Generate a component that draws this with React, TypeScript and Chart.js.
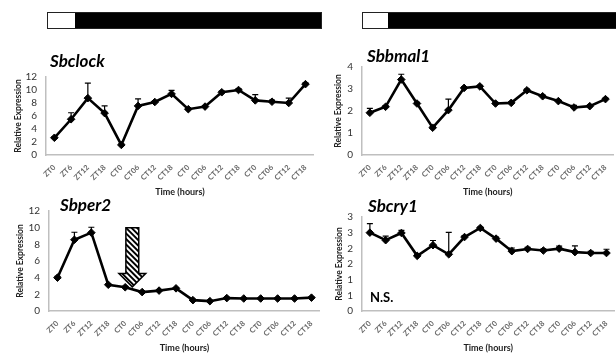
import React, { useEffect, useRef } from 'react';
import { Chart, registerables } from 'chart.js';

Chart.register(...registerables);

// Sampling times (light/dark, then constant darkness)
const timeLabels = [
  'ZT0', 'ZT6', 'ZT12', 'ZT18',
  'CT0', 'CT06', 'CT12', 'CT18',
  'CT0', 'CT06', 'CT12', 'CT18',
  'CT0', 'CT06', 'CT12', 'CT18',
];

// Sbclock relative expression and upper error
const clockMean = [2.65, 5.5, 8.75, 6.45, 1.55, 7.55, 8.15, 9.4, 7.05, 7.45, 9.65, 10.0, 8.4, 8.2, 8.0, 10.9];
const clockErr = [0.15, 1.0, 2.3, 1.1, 0.15, 1.1, 0.2, 0.55, 0.15, 0.15, 0.2, 0.2, 0.9, 0.25, 0.75, 0.2];

// Sbbmal1 relative expression and upper error
const bmalMean = [1.92, 2.19, 3.43, 2.34, 1.24, 2.04, 3.05, 3.12, 2.34, 2.37, 2.94, 2.67, 2.45, 2.16, 2.22, 2.54];
const bmalErr = [0.2, 0.05, 0.24, 0.05, 0.05, 0.5, 0.05, 0.05, 0.05, 0.05, 0.05, 0.05, 0.05, 0.1, 0.05, 0.05];

// Sbper2 relative expression and upper error
const perMean = [4.0, 8.55, 9.4, 3.15, 2.85, 2.27, 2.45, 2.72, 1.3, 1.18, 1.55, 1.5, 1.5, 1.5, 1.5, 1.6];
const perErr = [0.15, 0.9, 0.65, 0.1, 0.1, 0.1, 0.1, 0.1, 0.1, 0.1, 0.1, 0.1, 0.1, 0.1, 0.1, 0.1];

// Sbcry1 relative expression and upper error
const cryMean = [2.5, 2.26, 2.49, 1.76, 2.1, 1.81, 2.36, 2.65, 2.31, 1.91, 1.98, 1.93, 1.99, 1.88, 1.85, 1.85];
const cryErr = [0.29, 0.13, 0.08, 0.03, 0.15, 0.7, 0.05, 0.03, 0.05, 0.1, 0.05, 0.05, 0.08, 0.2, 0.05, 0.12];

// Light treatment marker on the Sbper2 panel, in axis units
const per2Arrow = { x: 4.42, top: 10, headBase: 4.5, tip: 2.9, halfShaft: 0.38, halfHead: 0.79 };

const FONT = 'Lato, "Open Sans", sans-serif';
const AXIS_GREY = '#bfbfbf';

type PanelSpec = {
  title: string;
  mean: number[];
  err: number[];
  yMax: number;
  yStep: number;
  roundTicks?: boolean;
  note?: string;
  arrow?: typeof per2Arrow;
  box: { left: number; top: number; width: number; height: number };
  padTop: number;
  yWidth: number;
  xHeight: number;
  yTitleOffset: number;
  xTitleOffset: number;
  titleDx: number;
  titleDy: number;
};

const panels: PanelSpec[] = [
  {
    title: 'Sbclock', mean: clockMean, err: clockErr, yMax: 12, yStep: 2,
    box: { left: 0, top: 40, width: 320, height: 160 }, padTop: 37, yWidth: 46, xHeight: 45,
    yTitleOffset: 18, xTitleOffset: 8, titleDx: 4, titleDy: -15,
  },
  {
    title: 'Sbbmal1', mean: bmalMean, err: bmalErr, yMax: 4, yStep: 1,
    box: { left: 316, top: 40, width: 304, height: 160 }, padTop: 27, yWidth: 46, xHeight: 45,
    yTitleOffset: 22, xTitleOffset: 8, titleDx: 5, titleDy: -10,
  },
  {
    title: 'Sbper2', mean: perMean, err: perErr, yMax: 12, yStep: 2, arrow: per2Arrow,
    box: { left: 0, top: 196, width: 326, height: 158 }, padTop: 13, yWidth: 49, xHeight: 43,
    yTitleOffset: 20, xTitleOffset: 6, titleDx: 11, titleDy: -5,
  },
  {
    title: 'Sbcry1', mean: cryMean, err: cryErr, yMax: 3, yStep: 0.5, roundTicks: true, note: 'N.S.',
    box: { left: 316, top: 196, width: 305, height: 158 }, padTop: 21, yWidth: 46, xHeight: 43,
    yTitleOffset: 23, xTitleOffset: 6, titleDx: 6, titleDy: -10,
  },
];

// Upward error bars with caps, drawn under the markers
const errorBars = {
  id: 'errorBars',
  beforeDatasetsDraw(chart: any) {
    const ds = chart.data.datasets[0];
    const errs: number[] = ds.errUp || [];
    const meta = chart.getDatasetMeta(0);
    const y = chart.scales.y;
    const ctx = chart.ctx;
    ctx.save();
    ctx.strokeStyle = '#000';
    ctx.lineWidth = 1.2;
    meta.data.forEach((pt: any, i: number) => {
      const e = errs[i];
      if (!e) return;
      const top = y.getPixelForValue(ds.data[i] + e);
      ctx.beginPath();
      ctx.moveTo(pt.x, pt.y);
      ctx.lineTo(pt.x, top);
      ctx.moveTo(pt.x - 3, top);
      ctx.lineTo(pt.x + 3, top);
      ctx.stroke();
    });
    ctx.restore();
  },
};

// Gene name, optional note and optional hatched arrow
const panelText = {
  id: 'panelText',
  afterDatasetsDraw(chart: any, _args: any, opts: any) {
    const ctx = chart.ctx;
    const area = chart.chartArea;
    ctx.save();
    ctx.fillStyle = '#000';
    ctx.textBaseline = 'middle';
    ctx.textAlign = 'left';
    ctx.font = `italic bold 17px ${FONT}`;
    ctx.fillText(opts.title, area.left + opts.titleDx, area.top + opts.titleDy);
    if (opts.note) {
      ctx.font = `bold 13px ${FONT}`;
      ctx.fillText(opts.note, area.left + 8, area.bottom - 13);
    }
    const a = opts.arrow;
    if (a) {
      const xs = chart.scales.x;
      const ys = chart.scales.y;
      const cx = xs.getPixelForValue(a.x);
      const band = xs.getPixelForValue(a.x + 1) - cx;
      const sw = a.halfShaft * band;
      const hw = a.halfHead * band;
      const yTop = ys.getPixelForValue(a.top);
      const yBase = ys.getPixelForValue(a.headBase);
      const yTip = ys.getPixelForValue(a.tip);
      const path = new Path2D();
      path.moveTo(cx - sw, yTop);
      path.lineTo(cx + sw, yTop);
      path.lineTo(cx + sw, yBase);
      path.lineTo(cx + hw, yBase);
      path.lineTo(cx, yTip);
      path.lineTo(cx - hw, yBase);
      path.lineTo(cx - sw, yBase);
      path.closePath();
      ctx.fillStyle = '#fff';
      ctx.fill(path);
      ctx.save();
      ctx.clip(path);
      ctx.strokeStyle = '#000';
      ctx.lineWidth = 2;
      const h = yTip - yTop;
      for (let s = -h; s < 2 * hw + h; s += 5.5) {
        ctx.beginPath();
        ctx.moveTo(cx - hw + s, yTop);
        ctx.lineTo(cx - hw + s + h, yTop + h);
        ctx.stroke();
      }
      ctx.restore();
      ctx.strokeStyle = '#000';
      ctx.lineWidth = 1.5;
      ctx.stroke(path);
    }
    ctx.restore();
  },
};

function Panel({ spec }: { spec: PanelSpec }) {
  const ref = useRef<HTMLCanvasElement | null>(null);

  useEffect(() => {
    if (!ref.current) return;
    const chart = new Chart(ref.current, {
      type: 'line',
      data: {
        labels: timeLabels,
        datasets: [
          {
            data: spec.mean,
            errUp: spec.err,
            borderColor: '#000',
            borderWidth: 2.6,
            pointStyle: 'rectRot',
            pointRadius: 3.8,
            pointBorderWidth: 1,
            pointBackgroundColor: '#000',
            pointBorderColor: '#000',
            tension: 0,
            fill: false,
          } as any,
        ],
      },
      options: {
        animation: false,
        responsive: false,
        events: [],
        layout: { padding: { top: spec.padTop, left: 0, right: 0, bottom: 0 } },
        plugins: {
          legend: { display: false },
          tooltip: { enabled: false },
          title: { display: false },
          panelText: {
            title: spec.title,
            titleDx: spec.titleDx,
            titleDy: spec.titleDy,
            note: spec.note,
            arrow: spec.arrow,
          },
        } as any,
        scales: {
          x: {
            type: 'category',
            offset: true,
            grid: { display: false, drawTicks: false },
            border: { display: true, color: AXIS_GREY, width: 1.5 },
            ticks: {
              autoSkip: false,
              maxRotation: 45,
              minRotation: 45,
              padding: 8,
              color: '#666',
              font: { family: FONT, size: 7.5, weight: 'bold' },
            },
            title: {
              display: true,
              text: 'Time (hours)',
              color: '#222',
              font: { family: FONT, size: 9, weight: 'bold' },
              padding: { top: 0, bottom: spec.xTitleOffset - 5.4 },
            },
            afterFit(scale: any) {
              scale.height = spec.xHeight;
            },
          },
          y: {
            min: 0,
            max: spec.yMax,
            grid: { display: false, drawTicks: false },
            border: { display: true, color: AXIS_GREY, width: 1.5 },
            ticks: {
              autoSkip: false,
              stepSize: spec.yStep,
              padding: 9,
              color: '#333',
              font: { family: FONT, size: 10 },
              callback: (v: any) => (spec.roundTicks ? String(Math.round(Number(v))) : String(v)),
            },
            title: {
              display: true,
              text: 'Relative Expression',
              color: '#222',
              font: { family: FONT, size: 8.5, weight: 'bold' },
              padding: { top: spec.yTitleOffset - 5.1, bottom: 0 },
            },
            afterFit(scale: any) {
              scale.width = spec.yWidth;
            },
          },
        },
      } as any,
      plugins: [errorBars, panelText],
    });
    return () => chart.destroy();
  }, [spec]);

  const { left, top, width, height } = spec.box;
  return (
    <canvas
      ref={ref}
      width={width}
      height={height}
      style={{ position: 'absolute', left, top, width, height }}
    />
  );
}

// Light/dark schedule bar above each column
function ScheduleBar({ left, width, lightWidth }: { left: number; width: number; lightWidth: number }) {
  return (
    <div
      style={{
        position: 'absolute',
        left,
        top: 12,
        width,
        height: 17,
        border: '1px solid #222',
        boxSizing: 'border-box',
        background: '#000',
      }}
    >
      <div style={{ width: lightWidth, height: '100%', background: '#fff' }} />
    </div>
  );
}

export default function App() {
  return (
    <div
      style={{
        position: 'fixed',
        left: 0,
        top: 0,
        width: 616,
        height: 354,
        overflow: 'hidden',
        background: '#fff',
      }}
    >
      <ScheduleBar left={47} width={275} lightWidth={27} />
      <ScheduleBar left={362} width={270} lightWidth={25} />
      {panels.map((p) => (
        <Panel key={p.title} spec={p} />
      ))}
    </div>
  );
}
